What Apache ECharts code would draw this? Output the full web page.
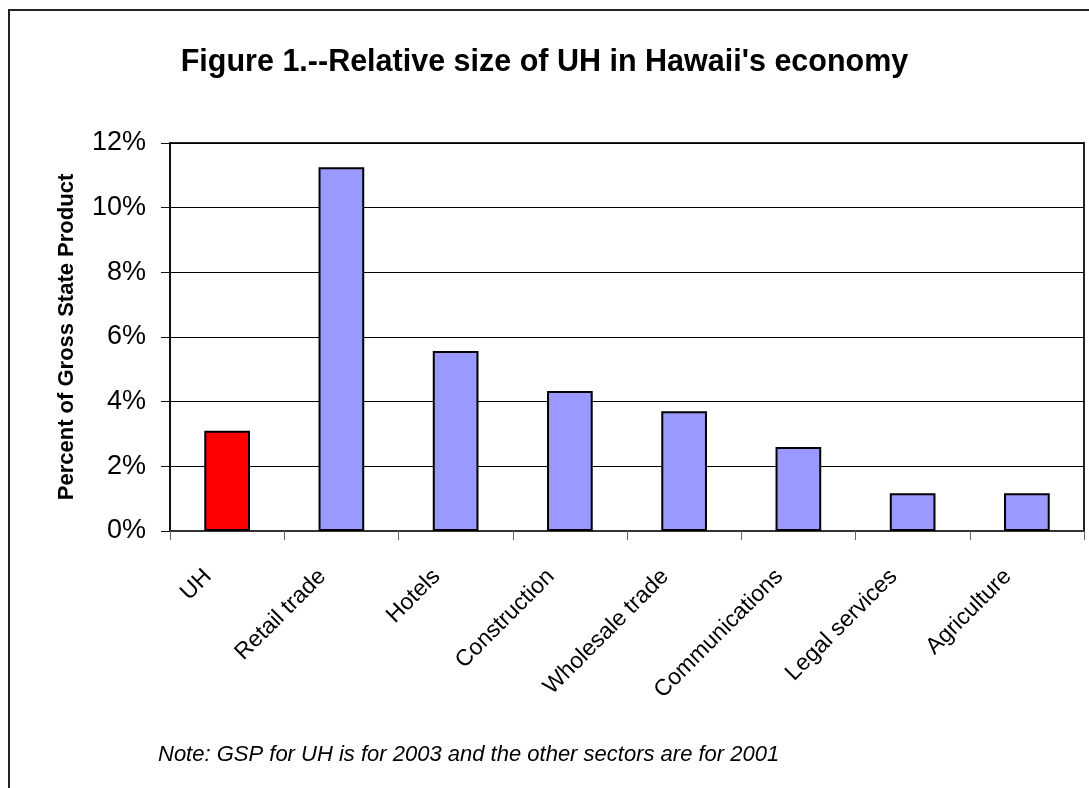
<!DOCTYPE html>
<html>
<head>
<meta charset="utf-8">
<script src="https://cdn.jsdelivr.net/npm/echarts@6/dist/echarts.min.js"></script>
<style>
html,body{margin:0;padding:0;background:#fff;}
#chart{width:1089px;height:788px;}
</style>
</head>
<body>
<div id="chart"></div>
<script>
const categories = ['UH','Retail trade','Hotels','Construction','Wholesale trade','Communications','Legal services','Agriculture'];
const values = [3.1, 11.25, 5.57, 4.33, 3.7, 2.6, 1.17, 1.17];
const barColors = ['#FF0000','#9999FF','#9999FF','#9999FF','#9999FF','#9999FF','#9999FF','#9999FF'];
const yTicks = [0, 2, 4, 6, 8, 10, 12];
const titleText = "Figure 1.--Relative size of UH in Hawaii's economy";
const yAxisName = 'Percent of Gross State Product';
const noteText = 'Note: GSP for UH is for 2003 and the other sectors are for 2001';

const FONT = '"Liberation Sans", Arial, sans-serif';
const chart = echarts.init(document.getElementById('chart'), null, {renderer:'canvas'});
chart.setOption({
  animation: false,
  backgroundColor: '#fff',
  title: {
    text: titleText,
    left: 'center',
    top: 42,
    textStyle: {fontFamily: FONT, fontSize: 30.5, fontWeight: 'bold', color: '#000'}
  },
  graphic: [
    {type:'rect', shape:{x:9, y:10, width:1200, height:900}, style:{fill:'none', stroke:'#222', lineWidth:2}, silent:true, z:-1},
    {type:'text', left:158, top:744, style:{text: noteText, font: 'italic 22px ' + FONT, fill:'#000'}}
  ],
  grid: {left:170, right:5, top:143, bottom:257, show:true, borderColor:'#222', borderWidth:2, backgroundColor:'#fff'},
  xAxis: {
    type:'category',
    data: categories,
    axisLine:{show:true, lineStyle:{color:'#333', width:2}},
    axisTick:{show:true, alignWithLabel:false, length:9, lineStyle:{color:'#666', width:1}},
    axisLabel:{rotate:45, interval:0, margin:23, padding:[0,27,0,0], fontFamily:FONT, fontSize:23, color:'#000'}
  },
  yAxis: {
    type:'value',
    min: yTicks[0], max: yTicks[yTicks.length-1], interval: 2,
    name: yAxisName,
    nameLocation:'middle',
    nameGap: 92,
    nameTextStyle:{fontFamily:FONT, fontSize:22, fontWeight:'bold', color:'#000'},
    axisLine:{show:true, lineStyle:{color:'#111', width:2}},
    axisTick:{show:true, length:9, lineStyle:{color:'#111', width:1}},
    axisLabel:{margin:24, fontFamily:FONT, fontSize:27, color:'#000', formatter: v => v + '%'},
    splitLine:{show:true, lineStyle:{color:'#000', width:1}}
  },
  series: [{
    type:'bar',
    data: values.map((v,i)=>({value:v, itemStyle:{color:barColors[i]}})),
    barWidth:'40%',
    itemStyle:{borderColor:'#000', borderWidth:2}
  }]
});
</script>
</body>
</html>
